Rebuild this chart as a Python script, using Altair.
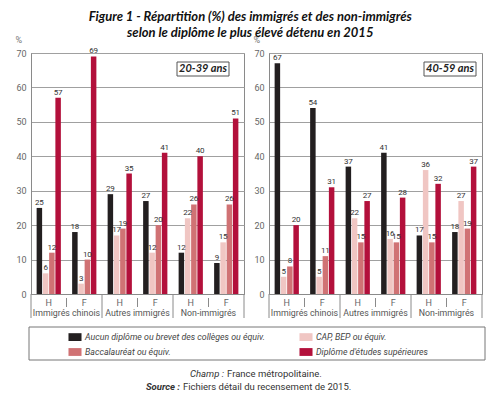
import altair as alt
import pandas as pd

# ---------------- data ----------------
groups = ["Immigrés chinois", "Autres immigrés", "Non-immigrés"]
sexes = ["H", "F"]
series = [
    "Aucun diplôme ou brevet des collèges ou équiv.",
    "CAP, BEP ou équiv.",
    "Baccalauréat ou équiv.",
    "Diplôme d'études supérieures",
]
colors = ["#231f20", "#f0c6c3", "#d07274", "#b3103b"]

panels = ["20-39 ans", "40-59 ans"]
# order of values: chinois H, chinois F, autres H, autres F, non-imm H, non-imm F
p1_aucun = [25, 18, 29, 27, 12, 9]
p1_cap = [6, 3, 17, 12, 22, 15]
p1_bac = [12, 10, 19, 20, 26, 26]
p1_sup = [57, 69, 35, 41, 40, 51]

p2_aucun = [67, 54, 37, 41, 17, 18]
p2_cap = [5, 5, 22, 16, 36, 27]
p2_bac = [8, 11, 15, 15, 15, 19]
p2_sup = [20, 31, 27, 28, 32, 37]

y_ticks = [0, 10, 20, 30, 40, 50, 60, 70]
title_lines = [
    "Figure 1 - Répartition (%) des immigrés et des non-immigrés",
    "selon le diplôme le plus élevé détenu en 2015",
]
foot1 = ["Champ :", "France métropolitaine."]
foot2 = ["Source :", "Fichiers détail du recensement de 2015."]

# ---------------- layout constants ----------------
W, H = 213, 241
FONT = "Roboto"
GREY = "#8a8a8a"

keys = [f"{g}|{s}" for g in groups for s in sexes]

# legend fills column by column: reorder so rows read like the reference
legend_order = [series[0], series[2], series[1], series[3]]
legend_colors = [colors[0], colors[2], colors[1], colors[3]]


def make_df(vals):
    rows = []
    for serie, vlist in zip(series, vals):
        for k, v in zip(keys, vlist):
            rows.append({"key": k, "serie": serie, "value": v})
    return pd.DataFrame(rows)


x_scale = alt.Scale(domain=keys, paddingInner=0, paddingOuter=0)
xoff = alt.XOffset("serie:N", scale=alt.Scale(domain=series, paddingInner=0.12, paddingOuter=0.9))
y_scale = alt.Scale(domain=[0, 70], nice=False)

x_axis = alt.Axis(labels=False, ticks=False, domainColor=GREY, title=None, grid=False)
y_axis = alt.Axis(values=y_ticks, grid=True, gridColor="#a0a0a0", domainColor=GREY,
                  ticks=False, labelPadding=5, labelColor="#666", labelFontSize=9,
                  labelFont=FONT, title="%", titleAngle=0, titleX=-16, titleY=-9,
                  titleAlign="left", titleFontWeight="normal", titleFontSize=9,
                  titleColor="#777", titleFont=FONT, labelOverlap=False)


def xk(bp=None):
    if bp is None:
        return alt.X("key:N", scale=x_scale, sort=keys, axis=x_axis)
    return alt.X("key:N", scale=x_scale, sort=keys, axis=x_axis, bandPosition=bp)


def panel(label, vals, box_center, first):
    df = make_df(vals)
    base = alt.Chart(df)
    bars = base.mark_bar().encode(
        x=xk(),
        xOffset=xoff,
        y=alt.Y("value:Q", scale=y_scale, axis=y_axis),
        color=alt.Color("serie:N", scale=alt.Scale(domain=legend_order, range=legend_colors),
                        legend=alt.Legend(orient="none", legendX=37, legendY=277, columns=2,
                                          title=None, symbolType="M-1,-0.6H1V0.6H-1Z",
                                          symbolSize=170, symbolStrokeWidth=0, labelFontSize=8.8,
                                          labelFontStyle="italic", labelColor="#444", labelFont=FONT,
                                          labelOffset=3, columnPadding=34, rowPadding=3,
                                          padding=0, labelLimit=400)),
    )
    texts = base.mark_text(baseline="bottom", dy=-1, fontSize=8, color="#333", font=FONT).encode(
        x=xk(),
        xOffset=xoff,
        y=alt.Y("value:Q", scale=y_scale, axis=y_axis),
        text=alt.Text("value:Q"),
    )
    sex_df = pd.DataFrame({"key": keys, "sexe": [k.split("|")[1] for k in keys]})
    sex_text = alt.Chart(sex_df).mark_text(fontSize=9, fill="#666", font=FONT, baseline="middle").encode(
        x=xk(), y=alt.value(H + 9), text="sexe:N")
    h_keys = pd.DataFrame({"key": [k for k in keys if k.endswith("|H")]})
    f_keys = pd.DataFrame({"key": [k for k in keys if k.endswith("|F")],
                           "grp": groups})
    last_key = pd.DataFrame({"key": [keys[-1]]})
    long_start = alt.Chart(h_keys).mark_rule(color=GREY).encode(
        x=xk(0), y=alt.value(H), y2=alt.value(H + 24))
    long_end = alt.Chart(last_key).mark_rule(color=GREY).encode(
        x=xk(1), y=alt.value(H), y2=alt.value(H + 24))
    short = alt.Chart(f_keys).mark_rule(color=GREY).encode(
        x=xk(0), y=alt.value(H + 4), y2=alt.value(H + 13))
    grp_text = alt.Chart(f_keys).mark_text(fontSize=8.8, color="#555", font=FONT, baseline="middle").encode(
        x=xk(0), y=alt.value(H + 19), text="grp:N")
    lab = pd.DataFrame({"t": [label]})
    box = alt.Chart(lab).mark_rect(fill="white", stroke="#555", strokeWidth=1).encode(
        x=alt.value(box_center - 26), x2=alt.value(box_center + 26),
        y=alt.value(9), y2=alt.value(23))
    box_t = alt.Chart(lab).mark_text(fontSize=11, fontStyle="italic", fontWeight="bold",
                                     font="Lato", color="#222", baseline="middle").encode(
        x=alt.value(box_center), y=alt.value(16), text="t:N")
    layers = [bars, texts, sex_text, long_start, long_end, short, grp_text, box, box_t]
    if first:
        legbox = alt.Chart(lab).mark_rect(fill=None, stroke="#777", strokeWidth=1).encode(
            x=alt.value(-2), x2=alt.value(454), y=alt.value(274), y2=alt.value(307))
        f1 = pd.DataFrame({"a": [foot1[0]], "b": [foot1[1]], "c": [foot2[0]], "d": [foot2[1]]})
        fa = alt.Chart(f1).mark_text(align="right", fontStyle="italic", fontSize=9.5, font=FONT,
                                     color="#333").encode(x=alt.value(193), y=alt.value(321), text="a:N")
        fb = alt.Chart(f1).mark_text(align="left", fontSize=9.5, font=FONT,
                                     color="#333").encode(x=alt.value(196), y=alt.value(321), text="b:N")
        fc = alt.Chart(f1).mark_text(align="right", fontStyle="italic", fontWeight="bold", fontSize=9.5,
                                     font=FONT, color="#333").encode(x=alt.value(149), y=alt.value(334), text="c:N")
        fd = alt.Chart(f1).mark_text(align="left", fontSize=9.5, font=FONT,
                                     color="#333").encode(x=alt.value(152), y=alt.value(334), text="d:N")
        layers += [legbox, fa, fb, fc, fd]
    return alt.layer(*layers).properties(width=W, height=H)


left = panel(panels[0], [p1_aucun, p1_cap, p1_bac, p1_sup], 172, True)
right = panel(panels[1], [p2_aucun, p2_cap, p2_bac, p2_sup], 181, False)

chart = alt.hconcat(left, right, spacing=25, bounds="flush").properties(
    title=alt.TitleParams(text=title_lines, anchor="middle", font="Lato", fontSize=13,
                          fontStyle="italic", fontWeight="bold", color="#111", lineHeight=16,
                          offset=-5),
    padding={"left": 6, "top": 2, "right": 5, "bottom": 0},
).configure_view(stroke=GREY, strokeWidth=1)

chart.save("out.html", embed_options={"renderer": "svg", "actions": False})
